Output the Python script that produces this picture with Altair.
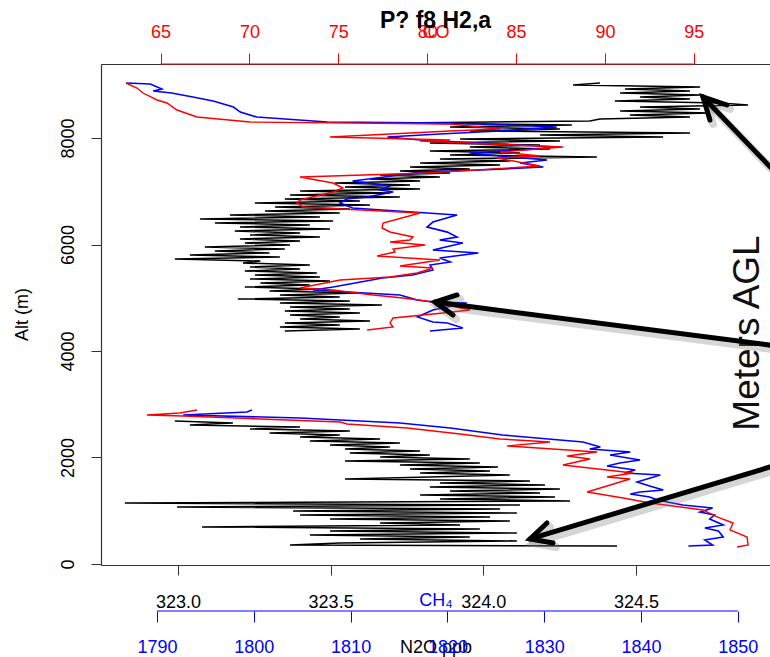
import altair as alt
import pandas as pd

FONT = "Liberation Sans"

# ---------------- N2O (black), ppb ----------------
n2o_up_alt = [9033, 8996, 8958, 8921, 8883, 8845, 8808, 8770, 8733, 8695,
              8658, 8620, 8582, 8545, 8507, 8470, 8432, 8395, 8357, 8320,
              8282, 8244, 8207, 8169, 8132, 8094, 8057, 8019, 7982, 7944,
              7906, 7869, 7831, 7794, 7756, 7719, 7681, 7643, 7606, 7568,
              7531, 7493, 7456, 7418, 7381, 7343, 7305, 7268, 7230, 7193,
              7155, 7118, 7080, 7042, 7005, 6967, 6930, 6892, 6855, 6817,
              6780, 6742, 6704, 6667, 6629, 6592, 6554, 6517, 6479, 6442,
              6404, 6366, 6329, 6291, 6254, 6216, 6179, 6141, 6104, 6066,
              6028, 5991, 5953, 5916, 5878, 5841, 5803, 5765, 5728, 5690,
              5653, 5615, 5578, 5540, 5503, 5465, 5427, 5390, 5352, 5315,
              5277, 5240, 5202, 5165, 5127, 5089, 5052, 5014, 4977, 4939,
              4902, 4864, 4826, 4789, 4751, 4714, 4676, 4639, 4601, 4564,
              4526, 4488, 4451, 4413, 4376]
n2o_up_val = [324.382, 324.294, 324.71, 324.464, 324.677, 324.448, 324.71, 324.513, 324.677, 324.431,
              324.775, 324.867, 324.513, 324.71, 324.448, 324.742, 324.48, 324.677, 324.382, 324.349,
              323.727, 324.29, 323.891, 324.251, 323.956, 324.677, 324.186, 324.589, 323.924, 324.251,
              323.825, 324.186, 323.956, 324.218, 323.825, 324.12, 323.891, 324.372, 323.858, 324.087,
              323.793, 324.055, 323.76, 323.956, 323.727, 323.891, 323.662, 323.858, 323.629, 323.793,
              323.514, 323.76, 323.547, 323.793, 323.40, 323.694, 323.367, 323.727, 323.35, 323.596,
              323.252, 323.629, 323.318, 323.563, 323.285, 323.53, 323.17, 323.465, 323.072, 323.508,
              323.121, 323.432, 323.203, 323.498, 323.186, 323.40, 323.236, 323.465, 323.203, 323.40,
              323.219, 323.367, 323.088, 323.35, 323.121, 323.30, 323.039, 323.334, 322.99, 323.27,
              323.213, 323.432, 323.236, 323.40, 323.219, 323.455, 323.252, 323.465, 323.236, 323.498,
              323.27, 323.432, 323.219, 323.465, 323.30, 323.596, 323.334, 323.53, 323.196, 323.563,
              323.334, 323.668, 323.367, 323.563, 323.35, 323.596, 323.367, 323.53, 323.40, 323.629,
              323.35, 323.53, 323.334, 323.596, 323.35]
n2o_lo_alt = [2686, 2648, 2610, 2573, 2535, 2498, 2460, 2423, 2385, 2348,
              2310, 2272, 2235, 2197, 2160, 2122, 2085, 2047, 2009, 1972,
              1934, 1897, 1859, 1822, 1784, 1747, 1709, 1671, 1634, 1596,
              1559, 1521, 1484, 1446, 1409, 1371, 1333, 1296, 1258, 1221,
              1183, 1146, 1108, 1070, 1033, 995, 958, 920, 883, 845,
              808, 770, 732, 695, 657, 620, 582, 545, 507, 470,
              432, 394, 357, 338]
n2o_lo_val = [322.99, 323.18, 323.039, 323.40, 323.236, 323.563, 323.30, 323.53, 323.40, 323.662,
              323.432, 323.727, 323.498, 323.694, 323.547, 323.793, 323.563, 323.825, 323.662, 323.956,
              323.547, 323.989, 323.727, 324.048, 323.76, 324.022, 323.793, 324.087, 323.825, 323.547,
              324.153, 323.858, 324.202, 323.825, 324.251, 323.891, 324.186, 323.793, 324.235, 323.858,
              324.284, 322.826, 324.12, 322.997, 324.055, 323.377, 324.11, 323.40, 324.022, 323.498,
              324.087, 323.662, 323.924, 323.079, 323.989, 323.498, 324.11, 323.432, 323.956, 323.596,
              324.11, 323.53, 323.367, 324.438]

# ---------------- CH4 (blue), ppb ----------------
ch4_up_alt = [9033, 9014, 8920, 8883, 8845, 8770, 8695, 8582, 8488, 8394,
              8300, 8282, 8244, 8207, 8132, 8075, 8019, 7963, 7906, 7831,
              7775, 7719, 7662, 7587, 7531, 7456, 7399, 7362, 7305, 7193,
              7099, 7024, 6986, 6892, 6855, 6780, 6686, 6554, 6421, 6327,
              6233, 6141, 6085, 6028, 5897, 5841, 5747, 5672, 5615, 5521,
              5427, 5371, 5202, 5146, 5052, 4958, 4920, 4902, 4770, 4639,
              4545, 4526, 4432, 4376]
ch4_up_val = [1786.8, 1789.3, 1790.5, 1789.6, 1791.5, 1793.7, 1795.8, 1797.9, 1798.6, 1800.3,
              1807.6, 1820.3, 1826.2, 1831.3, 1825.4, 1819.2, 1813.8, 1817.2, 1823.4, 1831.3,
              1827.5, 1822.3, 1825.4, 1830.3, 1827.5, 1829.9, 1823.4, 1817.2, 1815.1, 1810.2,
              1814.1, 1813.0, 1814.4, 1811.7, 1809.6, 1808.9, 1810.2, 1821.0, 1818.5, 1817.9,
              1820.0, 1821.0, 1819.2, 1821.6, 1818.5, 1823.2, 1819.2, 1820.3, 1818.2, 1818.5,
              1816.4, 1813.3, 1808.2, 1806.1, 1815.1, 1816.9, 1818.5, 1822.0, 1818.5, 1816.9,
              1818.5, 1820.0, 1821.6, 1818.2]
ch4_lo_alt = [2892, 2855, 2798, 2742, 2648, 2554, 2423, 2291, 2197, 2160,
              2103, 2047, 1953, 1897, 1840, 1765, 1709, 1671, 1540, 1465,
              1390, 1352, 1315, 1258, 1202, 1108, 1052, 977, 920, 845,
              732, 676, 620, 507, 451, 357, 338]
ch4_lo_val = [1799.8, 1799.3, 1792.7, 1804.8, 1815.1, 1820.3, 1825.7, 1834.0, 1835.8, 1834.7,
              1838.9, 1836.8, 1839.9, 1837.8, 1836.5, 1839.4, 1838.3, 1842.0, 1839.6, 1840.9,
              1842.3, 1839.9, 1838.9, 1840.9, 1841.7, 1844.3, 1847.4, 1846.1, 1847.6, 1847.1,
              1848.5, 1846.6, 1848.0, 1848.5, 1846.6, 1847.4, 1844.9]

# ---------------- CO (red), ppb ----------------
co_up_alt = [9033, 8939, 8845, 8714, 8658, 8526, 8394, 8300, 8263, 8169,
             8132, 8019, 7963, 7944, 7831, 7737, 7662, 7624, 7474, 7343,
             7268, 7155, 7061, 6986, 6836, 6780, 6705, 6592, 6404, 6310,
             6235, 6141, 6085, 6047, 5991, 5916, 5859, 5784, 5709, 5597,
             5559, 5465, 5390, 5334, 5183, 5146, 5052, 4995, 4920, 4770,
             4714, 4620, 4526, 4451, 4394]
co_up_val = [63.05, 63.67, 64.01, 64.80, 65.36, 65.92, 67.05, 70.03, 81.29, 84.10,
             81.29, 74.53, 81.29, 79.60, 87.65, 84.10, 86.35, 83.93, 86.35, 79.99,
             72.84, 74.70, 75.26, 74.70, 72.84, 72.68, 73.01, 79.60, 77.52, 77.46,
             77.91, 79.20, 79.03, 77.91, 79.88, 78.08, 78.19, 77.18, 80.72, 78.47,
             80.33, 79.43, 77.91, 75.10, 72.84, 74.70, 76.95, 78.64, 80.33, 82.41,
             80.89, 78.08, 77.91, 78.08, 76.62]
co_lo_alt = [2892, 2836, 2798, 2779, 2667, 2629, 2554, 2441, 2348, 2291,
             2216, 2103, 2028, 1972, 1859, 1709, 1634, 1596, 1352, 1239,
             1145, 1014, 883, 770, 639, 507, 357, 319]
co_lo_val = [67.05, 66.09, 64.23, 66.26, 75.10, 75.49, 78.87, 81.85, 84.10, 86.91,
             84.49, 89.56, 87.87, 89.16, 87.64, 91.58, 90.12, 91.41, 89.00, 91.03,
             92.54, 95.52, 96.31, 97.21, 97.04, 98.00, 98.06, 97.44]

# ---------------- axes ticks ----------------
alt_ticks = [0, 2000, 4000, 6000, 8000]
n2o_ticks = [323.0, 323.5, 324.0, 324.5]
ch4_ticks = [1790, 1800, 1810, 1820, 1830, 1840, 1850]
co_ticks = [65, 70, 75, 80, 85, 90, 95]

# ---------------- annotation (arrows in CO units) ----------------
arrow_part = ["a1s", "a1s", "a1h", "a1h", "a1h",
              "a2s", "a2s", "a2h", "a2h", "a2h",
              "a3s", "a3s", "a3h", "a3h", "a3h"]
arrow_co = [100.98, 95.52, 96.87, 95.52, 95.91,
            100.98, 80.44, 81.68, 80.44, 81.45,
            100.98, 85.79, 86.74, 85.79, 87.08]
arrow_alt = [6873, 8770, 8620, 8770, 8338,
             4038, 4920, 5052, 4920, 4676,
             1991, 470, 770, 470, 394]
note_label = ["Meters AGL"]
note_co = [98.06]
note_alt = [4338]


def series(up_alt, up_val, lo_alt, lo_val, name):
    rows = []
    for seg, alts, vals in (("upper", up_alt, up_val), ("lower", lo_alt, lo_val)):
        for k, (a, v) in enumerate(zip(alts, vals)):
            rows.append({"alt": a, name: v, "seg": seg, "i": k})
    return pd.DataFrame(rows)


df_n2o = series(n2o_up_alt, n2o_up_val, n2o_lo_alt, n2o_lo_val, "n2o")
df_ch4 = series(ch4_up_alt, ch4_up_val, ch4_lo_alt, ch4_lo_val, "ch4")
df_co = series(co_up_alt, co_up_val, co_lo_alt, co_lo_val, "co")
df_arrow = pd.DataFrame({"co": arrow_co, "alt": arrow_alt, "part": arrow_part,
                         "i": list(range(len(arrow_co)))})
df_note = pd.DataFrame({"co": note_co, "alt": note_alt, "label": note_label})
df_ch4_rule = pd.DataFrame({"ch4": [ch4_ticks[0]], "ch4e": [ch4_ticks[-1]]})
df_co_rule = pd.DataFrame({"co": [co_ticks[0]], "coe": [co_ticks[-1]]})

W, H = 669, 501
MID = W / 2

yscale = alt.Scale(domain=[-19, 9390], nice=False, zero=False)
yaxis = alt.Axis(values=alt_ticks, format="d", grid=False, domainColor="#333",
                 domainWidth=1.2, tickColor="#333", tickSize=10, labelAngle=270,
                 labelAlign="center", labelBaseline="middle", labelPadding=23,
                 labelFontSize=18, labelColor="black", labelFont=FONT,
                 titleFont=FONT, titleFontSize=18, titleFontWeight="normal",
                 titleColor="black", titleAngle=270, titleX=-79, titleY=250,
                 titleAlign="center", titleBaseline="middle")
Y = alt.Y("alt:Q", scale=yscale, axis=yaxis, title="Alt (m)")

xs_n2o = alt.Scale(domain=[322.748, 324.939], nice=False, zero=False)
ax_n2o = alt.Axis(orient="bottom", values=n2o_ticks, format=".1f", grid=False,
                  domainColor="#333", domainWidth=1.2, tickColor="#333", tickSize=10,
                  labelPadding=27, labelBaseline="middle", labelFontSize=18,
                  labelColor="black", labelFont=FONT, labelFlush=False,
                  titleFont=FONT, titleFontSize=18, titleFontWeight="normal",
                  titleColor="black", titleX=MID, titleY=82, titleAlign="center",
                  titleBaseline="middle")
X_n2o = alt.X("n2o:Q", scale=xs_n2o, axis=ax_n2o, title="N2O ppb")

xs_ch4 = alt.Scale(domain=[1784.21, 1853.33], nice=False, zero=False)
ax_ch4 = alt.Axis(orient="bottom", offset=46, values=ch4_ticks, format="d", grid=False,
                  domain=False, tickColor="blue", tickSize=11, labelPadding=25,
                  labelBaseline="middle", labelFontSize=18, labelColor="blue",
                  labelFont=FONT, labelFlush=False, titleFont=FONT, titleFontSize=18,
                  titleFontWeight="normal", titleColor="blue", titleX=MID, titleY=-11,
                  titleAlign="center", titleBaseline="middle")
X_ch4 = alt.X("ch4:Q", scale=xs_ch4, axis=ax_ch4, title="CH₄")

xs_co = alt.Scale(domain=[61.646, 99.29], nice=False, zero=False)
ax_co = alt.Axis(orient="top", values=co_ticks, format="d", grid=False,
                 domainColor="#333", domainWidth=1.2, tickColor="red", tickSize=11,
                 labelPadding=21, labelBaseline="middle", labelFontSize=18,
                 labelColor="red", labelFont=FONT, labelFlush=False, titleFont=FONT,
                 titleFontSize=18, titleFontWeight="normal", titleColor="red",
                 titleX=MID, titleY=-32, titleAlign="center", titleBaseline="middle")
X_co = alt.X("co:Q", scale=xs_co, axis=ax_co, title="CO")

n2o_line = alt.Chart(df_n2o).mark_line(color="black", strokeWidth=1.5).encode(
    x=X_n2o, y=Y, detail="seg:N", order="i:Q")
n2o_group = alt.layer(n2o_line)

ch4_line = alt.Chart(df_ch4).mark_line(color="blue", strokeWidth=1.6).encode(
    x=X_ch4, y=Y, detail="seg:N", order="i:Q")
ch4_rule = alt.Chart(df_ch4_rule).mark_rule(color="blue", strokeWidth=1.2).encode(
    x=X_ch4, x2="ch4e:Q", y=alt.value(H + 46))
ch4_group = alt.layer(ch4_line, ch4_rule)

co_line = alt.Chart(df_co).mark_line(color="red", strokeWidth=1.4).encode(
    x=X_co, y=Y, detail="seg:N", order="i:Q")
co_rule = alt.Chart(df_co_rule).mark_rule(color="red", strokeWidth=1.2).encode(
    x=X_co, x2="coe:Q", y=alt.value(0))
note = alt.Chart(df_note).mark_text(angle=270, fontSize=37, font=FONT, color="#111",
                                    align="center", baseline="middle").encode(
    x=X_co, y=Y, text="label:N")
shadow = alt.Chart(df_arrow).mark_line(color="#777", opacity=0.3, strokeWidth=8,
                                       strokeCap="round", xOffset=3, yOffset=4).encode(
    x=X_co, y=Y, detail="part:N", order="i:Q")
arrows = alt.Chart(df_arrow).mark_line(color="black", strokeWidth=5,
                                       strokeCap="round", strokeJoin="miter").encode(
    x=X_co, y=Y, detail="part:N", order="i:Q")
co_group = alt.layer(co_line, co_rule, note, shadow, arrows)

chart = alt.layer(n2o_group, ch4_group, co_group).resolve_scale(
    x="independent").resolve_axis(x="independent").properties(
    width=W, height=H,
    padding={"left": 101, "top": 64, "right": 0, "bottom": 92},
    autosize=alt.AutoSizeParams(type="none"),
    title=alt.TitleParams(text="P? f8 H2,a", fontSize=23, fontWeight="bold", font=FONT,
                          anchor="middle", frame="group", baseline="alphabetic",
                          offset=-28, color="black"),
).configure_view(stroke=None).configure(font=FONT, background="white")

chart.save("out.html", embed_options={"renderer": "svg", "actions": False})
